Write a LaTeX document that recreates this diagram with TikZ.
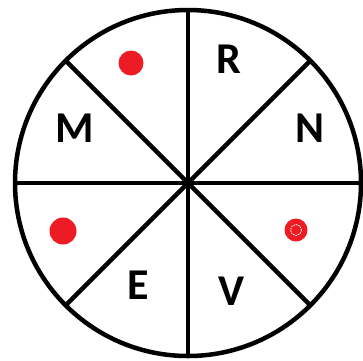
\documentclass[tikz,border=0pt]{standalone}
\usepackage{fontspec}
\setmainfont{Carlito}
\usepackage{xcolor}
\usepackage{tikz}
\usetikzlibrary{calc}

\definecolor{dotred}{HTML}{ED1C24}

\tikzset{
    letter/.style={font=\fontsize{44}{44}\selectfont\bfseries, inner sep=0pt},
    reddot/.style={circle, fill=dotred, inner sep=0pt, minimum size=#1},
}

\begin{document}
\begin{tikzpicture}[x=1pt, y=-1pt]
    \useasboundingbox (0,0) rectangle (363,360);
    \coordinate (O) at (188,183);

    % Wheel
    \draw[line width=4.5pt] (O) circle (173);
    \foreach \a in {0,45,90,135}
        \draw[line width=4.5pt] ($(O)+(\a:173)$) -- ($(O)+(\a+180:173)$);

    % Letters
    \node[letter] (R) at (229,59) {R};
    \node[letter] (N) at (310,128) {N};
    \node[letter] (M) at (75,128) {M};
    \node[letter] (E) at (138,285) {E};
    \node[letter] (V) at (232,291) {V};

    % Dots
    \node[reddot=25pt] (dotA) at (131,63) {};
    \node[reddot=27pt] (dotB) at (63,231) {};
    \node[reddot=23pt] (dotC) at (296,230) {};
    \draw[white, line width=0.8pt, dash pattern=on 1.5pt off 1pt] (dotC) circle (5.5);
\end{tikzpicture}
\end{document}
